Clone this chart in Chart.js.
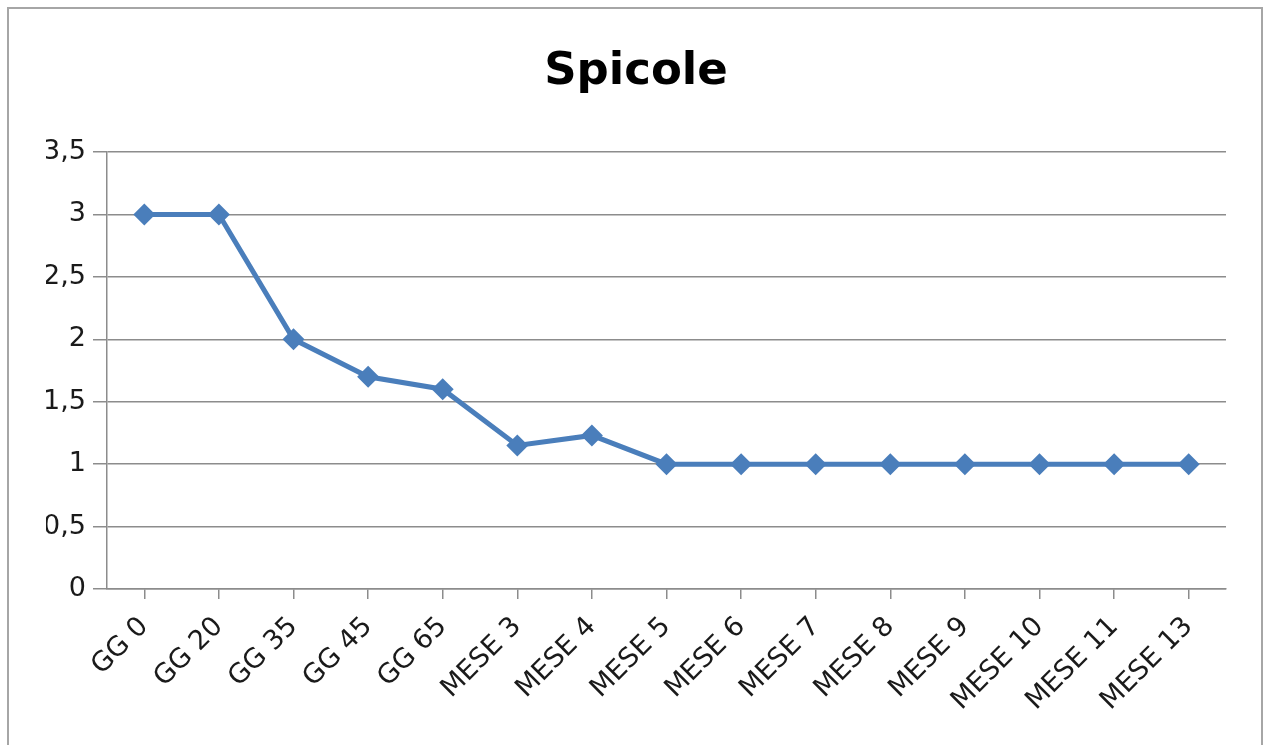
<!DOCTYPE html>
<html>
<head>
<meta charset="utf-8">
<title>Spicole</title>
<script src="https://cdn.jsdelivr.net/npm/chart.js@4/dist/chart.umd.min.js"></script>
<style>
  html, body { margin: 0; padding: 0; background: #fff; overflow: hidden; }
  #frame {
    position: absolute; left: 7px; top: 7px; width: 1256px; height: 800px;
    border: 2px solid #a6a6a6; box-sizing: border-box;
  }
  #wrap { position: absolute; left: 0; top: 0; width: 1264px; height: 745px; }
</style>
</head>
<body>
<div id="frame"></div>
<div id="wrap"><canvas id="chart"></canvas></div>
<script>
// Categories along the x axis
const LABELS = [
  'GG 0', 'GG 20', 'GG 35', 'GG 45', 'GG 65',
  'MESE 3', 'MESE 4', 'MESE 5', 'MESE 6', 'MESE 7',
  'MESE 8', 'MESE 9', 'MESE 10', 'MESE 11', 'MESE 13',
];

// Spicole values per time point
const VALUES = [3, 3, 2, 1.7, 1.6, 1.15, 1.23, 1, 1, 1, 1, 1, 1, 1, 1];

// y axis range
const Y_MIN  = 0;
const Y_MAX  = 3.5;
const Y_STEP = 0.5;

const LINE_COLOR = '#4a7ebb';
const GRID_COLOR = '#8c8c8c';
const TEXT_COLOR = '#1a1a1a';
const FONT       = '"DejaVu Sans", sans-serif';

new Chart(document.getElementById('chart'), {
  type: 'line',
  data: {
    labels: LABELS,
    datasets: [{
      label: 'Spicole',
      data: VALUES,
      borderColor: LINE_COLOR,
      backgroundColor: LINE_COLOR,
      borderWidth: 5,
      tension: 0,
      pointStyle: 'rectRot',
      pointRadius: 11,
      pointHoverRadius: 11,
      pointBorderWidth: 0,
    }],
  },
  options: {
    animation: false,
    responsive: true,
    maintainAspectRatio: false,
    // left/right padding keeps the title centred a bit right of the plot
    layout: { padding: { top: 0, right: 38, bottom: 0, left: 46 } },
    plugins: {
      legend: { display: false },
      tooltip: { enabled: false },
      title: {
        display: true,
        text: 'Spicole',
        color: '#000',
        font: { family: FONT, size: 45, weight: 'bold' },
        padding: { top: 45, bottom: 53 },
      },
    },
    scales: {
      x: {
        offset: true,
        grid: {
          display: true,
          drawOnChartArea: false,
          drawTicks: true,
          tickLength: 10,
          color: GRID_COLOR,
          lineWidth: 1.5,
        },
        border: { color: GRID_COLOR, width: 1.5 },
        ticks: {
          color: TEXT_COLOR,
          font: { family: FONT, size: 27 },
          minRotation: 45,
          maxRotation: 45,
          padding: 12,
          autoSkip: false,
        },
        afterFit: (scale) => { scale.height = 156; },
      },
      y: {
        min: Y_MIN,
        max: Y_MAX,
        grid: {
          color: GRID_COLOR,
          lineWidth: 1.5,
          tickLength: 14,
        },
        border: { color: GRID_COLOR, width: 1.5 },
        ticks: {
          stepSize: Y_STEP,
          color: TEXT_COLOR,
          font: { family: FONT, size: 27 },
          padding: 7,
          callback: (v) => String(v).replace('.', ','),
        },
        afterFit: (scale) => { scale.width = 61; },
      },
    },
  },
});
</script>
</body>
</html>
